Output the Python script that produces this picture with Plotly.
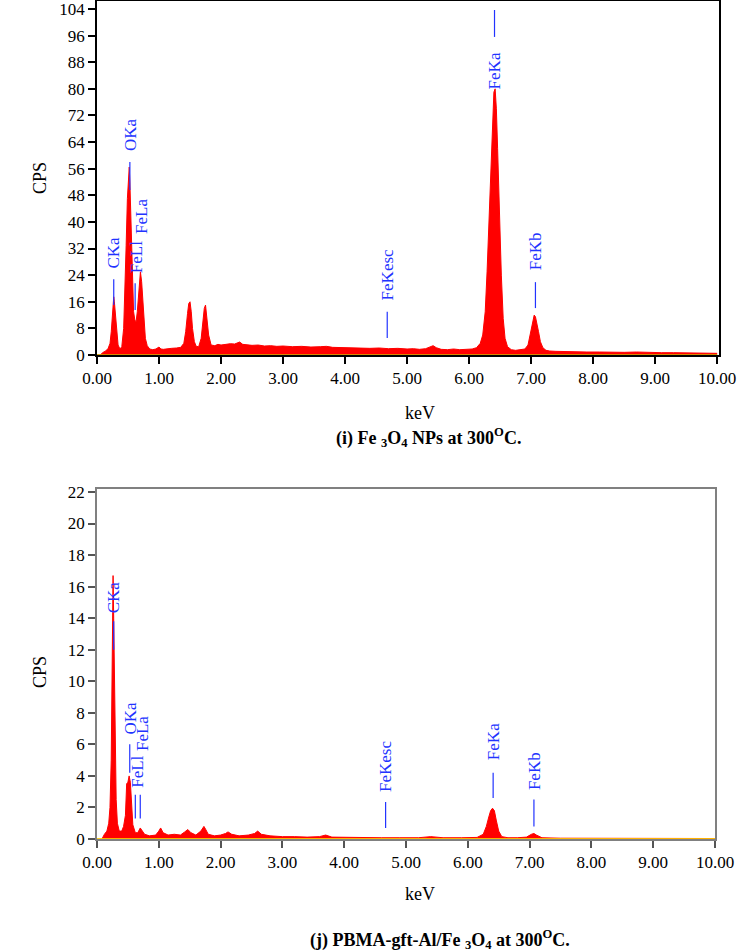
import plotly.graph_objects as go

# ---------------- data: spectrum (i) Fe3O4 NPs ----------------
kev_i = [0.00, 0.05, 0.10, 0.14, 0.18, 0.21, 0.23, 0.25, 0.26, 0.27, 0.28, 0.30, 0.32, 0.34, 0.37,
         0.40, 0.43, 0.45, 0.47, 0.49, 0.51, 0.52, 0.53, 0.55, 0.57, 0.59, 0.61, 0.63, 0.65, 0.67,
         0.69, 0.70, 0.72, 0.74, 0.76, 0.78, 0.81, 0.85, 0.90, 0.95, 1.00, 1.03, 1.07, 1.12, 1.20,
         1.28, 1.35, 1.40, 1.43, 1.46, 1.48, 1.50, 1.52, 1.54, 1.57, 1.60, 1.64, 1.68, 1.71, 1.73,
         1.75, 1.77, 1.80, 1.84, 1.90, 1.95, 2.00, 2.08, 2.15, 2.22, 2.30, 2.35, 2.42, 2.50, 2.60,
         2.70, 2.80, 2.90, 3.00, 3.15, 3.30, 3.45, 3.60, 3.70, 3.80, 3.95, 4.10, 4.25, 4.40, 4.55,
         4.70, 4.85, 5.00, 5.10, 5.20, 5.30, 5.38, 5.42, 5.47, 5.55, 5.65, 5.75, 5.85, 5.95, 6.05,
         6.12, 6.18, 6.22, 6.26, 6.29, 6.32, 6.35, 6.38, 6.40, 6.42, 6.44, 6.46, 6.49, 6.52, 6.55,
         6.58, 6.62, 6.68, 6.75, 6.82, 6.90, 6.95, 6.99, 7.02, 7.05, 7.07, 7.09, 7.12, 7.15, 7.19,
         7.24, 7.30, 7.40, 7.55, 7.70, 7.90, 8.10, 8.30, 8.50, 8.70, 8.90, 9.10, 9.30, 9.50, 9.70,
         9.90, 10.00]
cps_i = [0, 0, 0.8, 1.2, 2.0, 3.5, 7, 13, 16.5, 17.5, 16, 11, 6, 3, 1.8,
         2.5, 8, 18, 33, 47, 55, 56.5, 52, 38, 22, 13, 10.5, 10, 13, 19,
         24, 25, 22, 15, 9, 5, 2.8, 1.8, 1.6, 1.8, 2.4, 1.8, 1.7, 1.9, 2.0,
         2.1, 2.3, 3.5, 7, 12.5, 15.5, 16, 13, 8, 4, 2.6, 2.5, 5, 11, 14,
         15, 12, 6, 3, 2.8, 3.2, 3.0, 3.2, 3.4, 3.3, 3.9, 3.2, 3.0, 2.9, 3.0,
         2.7, 2.8, 2.6, 2.7, 2.5, 2.6, 2.4, 2.5, 2.6, 2.3, 2.2, 2.3, 2.1, 2.0, 2.1,
         1.9, 2.0, 1.8, 1.9, 1.7, 1.9, 2.6, 2.8, 2.2, 1.7, 1.6, 1.8, 1.6, 1.7, 1.8,
         2.2, 3.5, 6, 13, 25, 40, 58, 72, 79, 80, 74, 62, 42, 24, 11,
         5, 2.5, 1.6, 1.4, 1.5, 1.8, 3, 6.5, 10, 12, 11.5, 10, 7, 4, 2.2,
         1.4, 1.2, 1.1, 1.0, 1.0, 0.9, 0.9, 0.8, 0.8, 0.9, 0.7, 0.7, 0.7, 0.6, 0.6,
         0.6, 0.5]

# peak labels (i): name, line energy, marker bottom/top, label energy, label centre
lab_i_names = ["CKa", "OKa", "FeLl", "FeLa", "FeKesc", "FeKa", "FeKb"]
lab_i_kev = [0.27, 0.53, 0.615, None, 4.68, 6.41, 7.07]
lab_i_lo = [15.0, 49.6, 13.5, None, 5.1, 95.6, 14.1]
lab_i_hi = [22.8, 58.0, 21.6, None, 13.0, 103.7, 21.9]
lab_i_tx = [0.27, 0.53, 0.635, 0.725, 4.68, 6.41, 7.07]
lab_i_ty = [30.7, 66.4, 29.5, 41.8, 24.0, 85.4, 31.3]

# ---------------- data: spectrum (j) PBMA-gft-Al/Fe3O4 ----------------
kev_j = [0.00, 0.08, 0.12, 0.16, 0.19, 0.21, 0.23, 0.24, 0.25, 0.26, 0.27, 0.28, 0.29, 0.30, 0.31,
         0.33, 0.36, 0.40, 0.43, 0.46, 0.48, 0.50, 0.52, 0.54, 0.56, 0.58, 0.62, 0.66, 0.70, 0.73,
         0.77, 0.85, 0.95, 1.00, 1.03, 1.07, 1.15, 1.25, 1.35, 1.42, 1.47, 1.52, 1.60, 1.68, 1.73,
         1.76, 1.80, 1.90, 2.00, 2.08, 2.12, 2.18, 2.30, 2.45, 2.55, 2.60, 2.66, 2.80, 3.00, 3.20,
         3.40, 3.60, 3.70, 3.80, 4.00, 4.30, 4.60, 4.90, 5.20, 5.40, 5.60, 5.90, 6.15, 6.25, 6.30,
         6.34, 6.37, 6.40, 6.43, 6.46, 6.50, 6.55, 6.65, 6.80, 6.95, 7.03, 7.07, 7.11, 7.20, 7.50,
         8.00, 8.50, 9.00, 9.50, 10.00]
cps_j = [0, 0, 0.3, 0.5, 1.0, 2.0, 5, 10.5, 13, 16.7, 14, 11.5, 7, 4.5, 2.5,
         1.0, 0.5, 0.5, 0.8, 1.5, 3.5, 3.6, 4.0, 3.6, 2.0, 0.9, 0.4, 0.4, 0.7, 0.5,
         0.3, 0.2, 0.25, 0.5, 0.7, 0.4, 0.25, 0.3, 0.25, 0.45, 0.6, 0.4, 0.25, 0.5, 0.8,
         0.6, 0.3, 0.2, 0.25, 0.35, 0.45, 0.3, 0.2, 0.25, 0.35, 0.5, 0.3, 0.2, 0.15, 0.15,
         0.12, 0.15, 0.25, 0.12, 0.1, 0.1, 0.08, 0.08, 0.08, 0.15, 0.08, 0.08, 0.1, 0.3, 0.8,
         1.4, 1.8, 1.95, 1.8, 1.2, 0.5, 0.15, 0.08, 0.08, 0.12, 0.3, 0.35, 0.25, 0.08, 0.05,
         0.05, 0.04, 0.04, 0.03, 0.03]

lab_j_names = ["CKa", "OKa", "FeLl", "FeLa", "FeKesc", "FeKa", "FeKb"]
lab_j_kev = [0.27, 0.53, 0.62, 0.70, 4.67, 6.41, 7.07]
lab_j_lo = [12.0, 4.2, 1.3, 1.3, 0.7, 2.6, 0.8]
lab_j_hi = [13.8, 6.0, 2.8, 2.8, 2.35, 4.2, 2.5]
lab_j_tx = [0.27, 0.55, 0.66, 0.74, 4.67, 6.41, 7.07]
lab_j_ty = [15.3, 7.7, 4.25, 6.7, 4.6, 6.15, 4.3]

x_ticks = [0, 1, 2, 3, 4, 5, 6, 7, 8, 9, 10]
y_ticks_i = list(range(0, 105, 8))
y_ticks_j = list(range(0, 23, 2))

W, H = 739, 952
FONT = "Liberation Serif"
BLUE = "#2233ff"

fig = go.Figure()

# spectrum (i)
fig.add_trace(go.Scatter(x=kev_i, y=cps_i, mode="lines", fill="tozeroy",
                         line=dict(color="#ff0000", width=1), fillcolor="#ff0000",
                         xaxis="x", yaxis="y", showlegend=False, hoverinfo="skip"))
fig.add_trace(go.Scatter(x=[kev_i[0], kev_i[-1]], y=[0, 0], mode="lines",
                         line=dict(color="#c8b400", width=1.5),
                         xaxis="x", yaxis="y", showlegend=False, hoverinfo="skip"))
# spectrum (j)
fig.add_trace(go.Scatter(x=kev_j, y=cps_j, mode="lines", fill="tozeroy",
                         line=dict(color="#ff0000", width=1), fillcolor="#ff0000",
                         xaxis="x2", yaxis="y2", showlegend=False, hoverinfo="skip"))
fig.add_trace(go.Scatter(x=[kev_j[0], kev_j[-1]], y=[0, 0], mode="lines",
                         line=dict(color="#ffee00", width=1.5),
                         xaxis="x2", yaxis="y2", showlegend=False, hoverinfo="skip"))

# marker lines
def add_markers(kev, lo, hi, xa, ya):
    xs, ys = [], []
    for k, a, b in zip(kev, lo, hi):
        if k is None:
            continue
        xs += [k, k, None]
        ys += [a, b, None]
    fig.add_trace(go.Scatter(x=xs, y=ys, mode="lines", line=dict(color=BLUE, width=1.2),
                             xaxis=xa, yaxis=ya, showlegend=False, hoverinfo="skip"))

add_markers(lab_i_kev, lab_i_lo, lab_i_hi, "x", "y")
add_markers(lab_j_kev, lab_j_lo, lab_j_hi, "x2", "y2")

LBL = 17
ann = []
for n, tx, ty in zip(lab_i_names, lab_i_tx, lab_i_ty):
    ann.append(dict(x=tx, y=ty, xref="x", yref="y", text=n, showarrow=False, textangle=-90,
                    font=dict(family=FONT, size=LBL, color=BLUE), xanchor="center", yanchor="middle"))
for n, tx, ty in zip(lab_j_names, lab_j_tx, lab_j_ty):
    ann.append(dict(x=tx, y=ty, xref="x2", yref="y2", text=n, showarrow=False, textangle=-90,
                    font=dict(family=FONT, size=LBL, color=BLUE), xanchor="center", yanchor="middle"))

def px(x):
    return x / W

def py(y):
    return 1 - y / H

txt = dict(family=FONT, size=18, color="#000")
ann += [
    dict(x=px(40), y=py(178), xref="paper", yref="paper", text="CPS", textangle=-90,
         showarrow=False, font=txt, xanchor="center", yanchor="middle"),
    dict(x=px(420), y=py(413), xref="paper", yref="paper", text="keV",
         showarrow=False, font=txt, xanchor="center", yanchor="middle"),
    dict(x=px(428), y=py(438), xref="paper", yref="paper",
         text="<b>(i) Fe <sub>3</sub>O<sub>4</sub> NPs at 300<sup>O</sup>C.</b>",
         showarrow=False, font=dict(family=FONT, size=18, color="#000"),
         xanchor="center", yanchor="middle"),
    dict(x=px(40), y=py(672), xref="paper", yref="paper", text="CPS", textangle=-90,
         showarrow=False, font=txt, xanchor="center", yanchor="middle"),
    dict(x=px(420), y=py(894), xref="paper", yref="paper", text="keV",
         showarrow=False, font=txt, xanchor="center", yanchor="middle"),
    dict(x=px(440), y=py(939), xref="paper", yref="paper",
         text="<b>(j) PBMA-gft-Al/Fe <sub>3</sub>O<sub>4</sub> at 300<sup>O</sup>C.</b>",
         showarrow=False, font=dict(family=FONT, size=18, color="#000"),
         xanchor="center", yanchor="middle"),
]

tickfont = dict(family=FONT, size=17, color="#000")
ax_common = dict(showgrid=False, zeroline=False, showline=True, mirror=True,
                 ticks="outside", ticklen=7, tickfont=tickfont, automargin=False,
                 ticklabeloverflow="allow")

fig.update_layout(
    width=W, height=H,
    margin=dict(l=0, r=0, t=0, b=0, autoexpand=False),
    paper_bgcolor="white", plot_bgcolor="white",
    xaxis=dict(domain=[px(97), px(719)], range=[0, 10.03], anchor="y",
               tickvals=x_ticks, tickformat=".2f", linecolor="#000", linewidth=1.5,
               tickcolor="#000", tickwidth=1.5, **ax_common),
    yaxis=dict(domain=[py(355), py(1)], range=[0, 106.4], anchor="x",
               tickvals=y_ticks_i, linecolor="#000", linewidth=1.5,
               tickcolor="#000", tickwidth=1.5, **ax_common),
    xaxis2=dict(domain=[px(97), px(715)], range=[0, 10.0], anchor="y2",
                tickvals=x_ticks, tickformat=".2f", linecolor="#808080", linewidth=1.5,
                tickcolor="#555", tickwidth=1.5, **ax_common),
    yaxis2=dict(domain=[py(839), py(489)], range=[0, 22.19], anchor="x2",
                tickvals=y_ticks_j, linecolor="#808080", linewidth=1.5,
                tickcolor="#555", tickwidth=1.5, **ax_common),
    annotations=ann,
)

fig.write_html("out.html")
